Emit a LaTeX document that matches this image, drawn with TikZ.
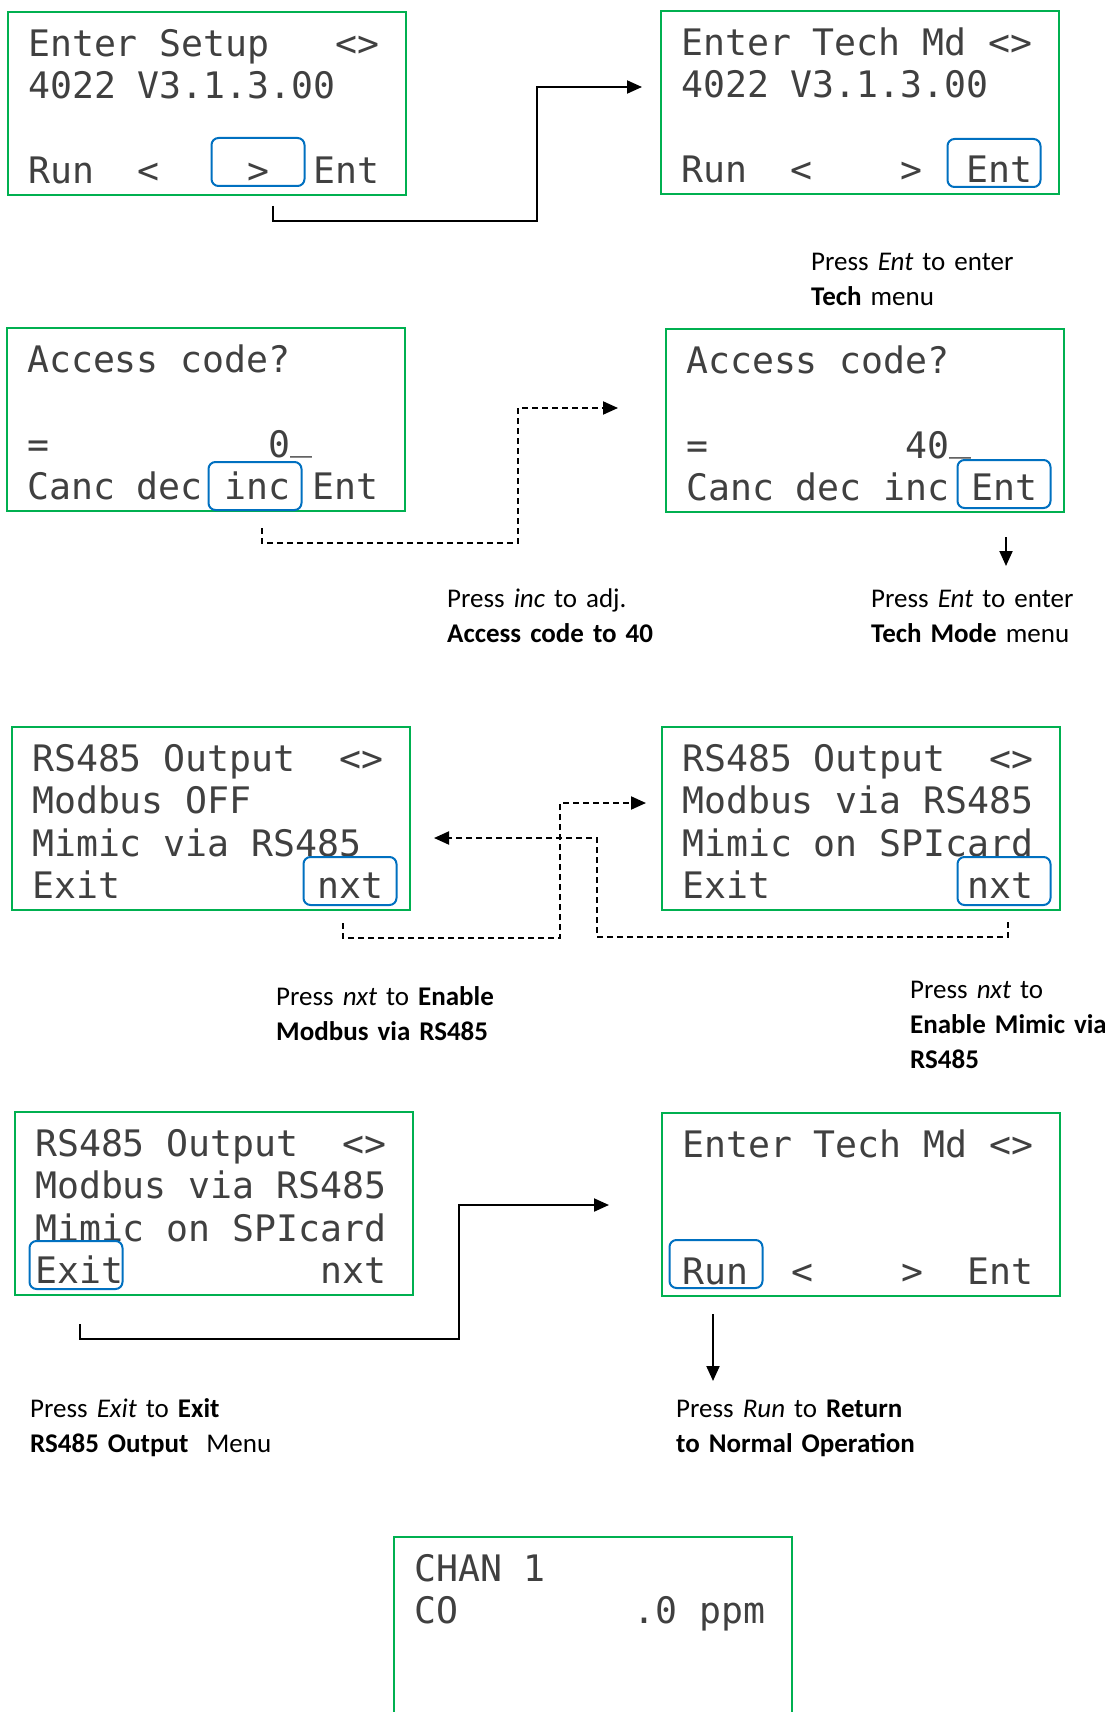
\documentclass[tikz,border=0pt]{standalone}
\usepackage{fontspec}
\setmainfont{Carlito}
\newfontfamily\lcdfont{DejaVu Sans Mono}
\usepackage{xcolor}
\usetikzlibrary{arrows.meta}
\definecolor{lcdgreen}{HTML}{00B050}
\definecolor{keyblue}{HTML}{0070C0}
\newcommand{\cursor}{\raisebox{8pt}{\_}}

\begin{document}
\begin{tikzpicture}[x=1pt,y=-1pt,
		screen/.style={draw=lcdgreen,line width=2.2pt,anchor=north west,
			text width=358pt,align=left,inner xsep=20pt,inner ysep=0pt,
			text height=44pt,text depth=139pt,text=black!75,
			font={\lcdfont\fontsize{36.5}{42.5}\selectfont\def~{\phantom{0}}}},
		key/.style={draw=keyblue,line width=2pt,rounded corners=7pt,
			minimum width=93pt,minimum height=48pt,inner sep=0pt},
		note/.style={anchor=base west,text width=340pt,align=left,inner sep=0pt,
			font=\fontsize{27}{35}\selectfont},
		link/.style={line width=2pt,-{Triangle[length=15pt,width=13pt]}},
		dashlink/.style={link,dash pattern=on 6pt off 4pt}]
		
		\clip (0,0) rectangle (1104,1712);
		
		\node[screen] (s1) at (7,11)
		{Enter~Setup~~~<>\\4022~V3.1.3.00\\~\\Run~~<~~~~>~~Ent};
		
		\node[screen] (s2) at (660,10)
		{Enter~Tech~Md~<>\\4022~V3.1.3.00\\~\\Run~~<~~~~>~~Ent};
		
		\node[screen] (s3) at (6,327)
		{Access~code?\\~\\=~~~~~~~~~~0\cursor\\Canc~dec~inc~Ent};
		
		\node[screen] (s4) at (665,328)
		{Access~code?\\~\\=~~~~~~~~~40\cursor\\Canc~dec~inc~Ent};
		
		\node[screen] (s5) at (11,726)
		{RS485~Output~~<>\\Modbus~OFF\\Mimic~via~RS485\\Exit~~~~~~~~~nxt};
		
		\node[screen] (s6) at (661,726)
		{RS485~Output~~<>\\Modbus~via~RS485\\Mimic~on~SPIcard\\Exit~~~~~~~~~nxt};
		
		\node[screen] (s7) at (14,1111)
		{RS485~Output~~<>\\Modbus~via~RS485\\Mimic~on~SPIcard\\Exit~~~~~~~~~nxt};
		
		\node[screen] (s8) at (661,1112)
		{Enter~Tech~Md~<>\\~\\~\\Run~~<~~~~>~~Ent};
		
		\node[screen] (s9) at (393,1536)
		{CHAN~1\\CO~~~~~~~~.0~ppm\\~\\~};
		
		\node[key] (k1) at (258,162) {};
		\node[key] (k2) at (994,163) {};
		\node[key] (k3) at (255,486) {};
		\node[key] (k4) at (1004,484) {};
		\node[key] (k5) at (350,881) {};
		\node[key] (k6) at (1004,881) {};
		\node[key] (k7) at (76,1265) {};
		\node[key] (k8) at (716,1264) {};
		
		\node[note] (n1) at (811,270)
		{Press \textit{Ent} to enter\\\textbf{Tech} menu};
		
		\node[note] (n2) at (447,607)
		{Press \textit{inc} to adj.\\\textbf{Access code to 40}};
		
		\node[note] (n3) at (871,607)
		{Press \textit{Ent} to enter\\\textbf{Tech Mode} menu};
		
		\node[note] (n4) at (276,1005)
		{Press \textit{nxt} to \textbf{Enable}\\\textbf{Modbus via RS485}};
		
		\node[note] (n5) at (910,998)
		{Press \textit{nxt} to\\\textbf{Enable Mimic via}\\\textbf{RS485}};
		
		\node[note] (n6) at (30,1417)
		{Press \textit{Exit} to \textbf{Exit}\\\textbf{RS485 Output}\ \ Menu};
		
		\node[note] (n7) at (676,1417)
		{Press \textit{Run} to \textbf{Return}\\\textbf{to Normal Operation}};
		
		\coordinate (a1) at (273,206);
		\coordinate (b1) at (642,87);
		\coordinate (a2) at (262,528);
		\coordinate (b2) at (618,408);
		\coordinate (a3) at (1006,537);
		\coordinate (b3) at (1006,566);
		\coordinate (a4) at (343,923);
		\coordinate (b4) at (646,803);
		\coordinate (a5) at (1008,922);
		\coordinate (b5) at (434,838);
		\coordinate (a6) at (80,1324);
		\coordinate (b6) at (609,1205);
		\coordinate (a7) at (713,1314);
		\coordinate (b7) at (713,1381);
		
		\draw[link] (a1) |- (537,221) |- (b1);
		\draw[dashlink] (a2) |- (518,543) |- (b2);
		\draw[link] (a3)--(b3);
		\draw[dashlink] (a4) |- (560,938) |- (b4);
		\draw[dashlink] (a5) |- (597,937) |- (b5);
		\draw[link] (a6) |- (459,1339) |- (b6);
		\draw[link] (a7)--(b7);
		
	\end{tikzpicture}
\end{document}
